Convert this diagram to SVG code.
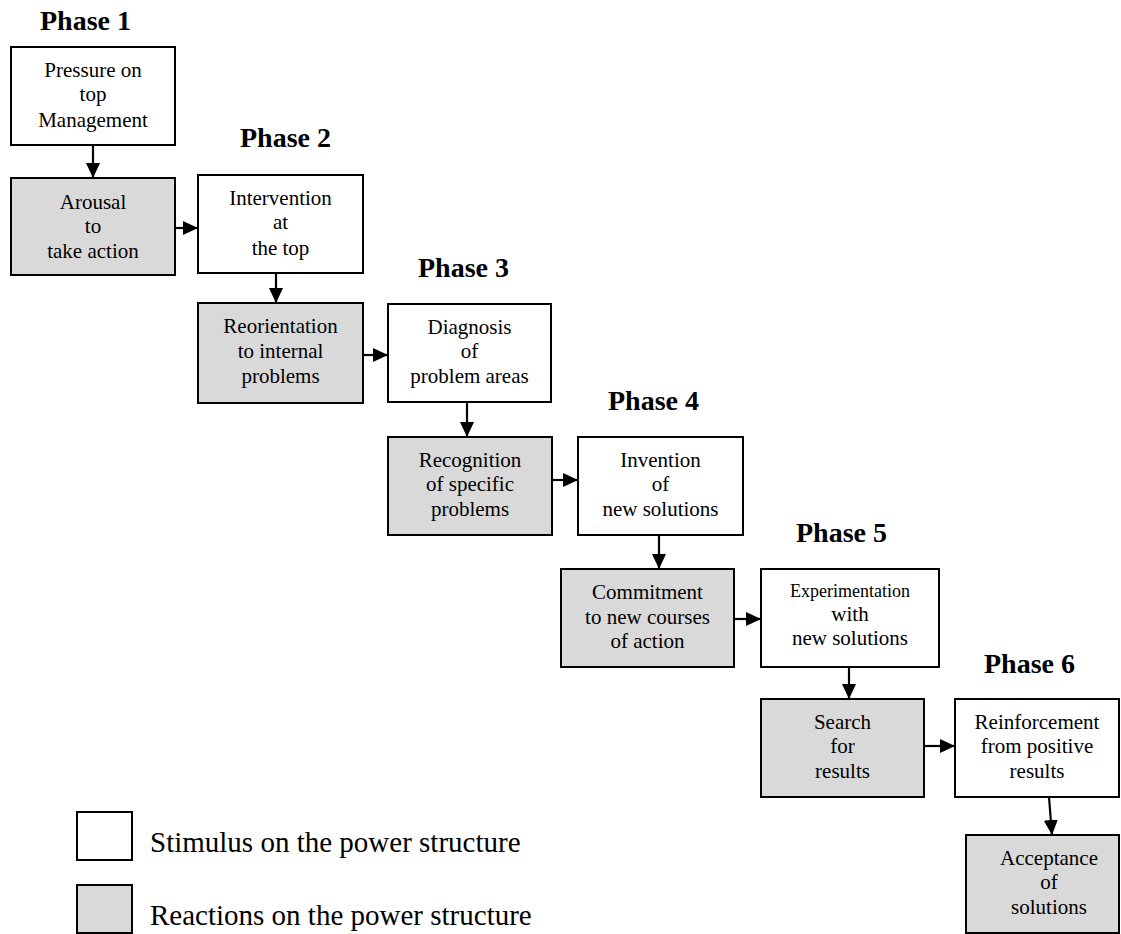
<svg xmlns="http://www.w3.org/2000/svg" width="1121" height="934" viewBox="0 0 1121 934">
<style>
.box{stroke:#000;stroke-width:2}
.w{fill:#fff}
.g{fill:#d9d9d9}
.t{font-family:"Liberation Serif","Times New Roman",serif;font-size:21px;fill:#000;text-anchor:middle}
.s{font-size:18px}
.ph{font-family:"Liberation Serif","Times New Roman",serif;font-size:28px;font-weight:bold;fill:#000}
.lg{font-family:"Liberation Serif","Times New Roman",serif;font-size:29px;fill:#000}
.c{stroke:#000;stroke-width:2.2;fill:none;marker-end:url(#ah)}
</style>
<defs>
<marker id="ah" markerWidth="15" markerHeight="14" refX="15" refY="7" orient="auto" markerUnits="userSpaceOnUse">
<path d="M0,0 L15,7 L0,14 Z" fill="#000"/>
</marker>
</defs>
<rect width="1121" height="934" fill="#fff"/>
<g id="phases">
<text class="ph" x="40" y="30">Phase 1</text>
<text class="ph" x="240" y="147">Phase 2</text>
<text class="ph" x="418" y="277">Phase 3</text>
<text class="ph" x="608" y="410">Phase 4</text>
<text class="ph" x="796" y="542">Phase 5</text>
<text class="ph" x="984" y="673">Phase 6</text>
</g>
<g id="connectors">
<line class="c" x1="93" y1="145" x2="93" y2="178"/>
<line class="c" x1="175" y1="228" x2="198" y2="228"/>
<line class="c" x1="276" y1="273" x2="276" y2="303"/>
<line class="c" x1="363" y1="355" x2="388" y2="355"/>
<line class="c" x1="467" y1="402" x2="467" y2="437"/>
<line class="c" x1="552" y1="480" x2="578" y2="480"/>
<line class="c" x1="659" y1="535" x2="659" y2="569"/>
<line class="c" x1="734" y1="619" x2="761" y2="619"/>
<line class="c" x1="849" y1="667" x2="849" y2="699"/>
<line class="c" x1="924" y1="746" x2="955" y2="746"/>
<line class="c" x1="1049" y1="797" x2="1052" y2="835"/>
</g>
<g id="n1"><rect class="box w" x="11" y="47" width="164" height="98"/>
<text class="t" x="93" y="77">Pressure on</text><text class="t" x="93" y="101">top</text><text class="t" x="93" y="127">Management</text></g>
<g id="n2"><rect class="box g" x="11" y="178" width="164" height="97"/>
<text class="t" x="93" y="209">Arousal</text><text class="t" x="93" y="233">to</text><text class="t" x="93" y="258">take action</text></g>
<g id="n3"><rect class="box w" x="198" y="175" width="165" height="98"/>
<text class="t" x="280.5" y="205">Intervention</text><text class="t" x="280.5" y="229">at</text><text class="t" x="280.5" y="255">the top</text></g>
<g id="n4"><rect class="box g" x="198" y="303" width="165" height="100"/>
<text class="t" x="280.5" y="333">Reorientation</text><text class="t" x="280.5" y="358">to internal</text><text class="t" x="280.5" y="383">problems</text></g>
<g id="n5"><rect class="box w" x="388" y="304" width="163" height="98"/>
<text class="t" x="469.5" y="334">Diagnosis</text><text class="t" x="469.5" y="358">of</text><text class="t" x="469.5" y="383">problem areas</text></g>
<g id="n6"><rect class="box g" x="388" y="437" width="164" height="98"/>
<text class="t" x="470" y="467">Recognition</text><text class="t" x="470" y="491">of specific</text><text class="t" x="470" y="516">problems</text></g>
<g id="n7"><rect class="box w" x="578" y="437" width="165" height="98"/>
<text class="t" x="660.5" y="467">Invention</text><text class="t" x="660.5" y="491">of</text><text class="t" x="660.5" y="516">new solutions</text></g>
<g id="n8"><rect class="box g" x="561" y="569" width="173" height="98"/>
<text class="t" x="647.5" y="599">Commitment</text><text class="t" x="647.5" y="624">to new courses</text><text class="t" x="647.5" y="648">of action</text></g>
<g id="n9"><rect class="box w" x="761" y="569" width="178" height="98"/>
<text class="t s" x="850" y="597">Experimentation</text><text class="t" x="850" y="621">with</text><text class="t" x="850" y="645">new solutions</text></g>
<g id="n10"><rect class="box g" x="761" y="699" width="163" height="98"/>
<text class="t" x="842.5" y="729">Search</text><text class="t" x="842.5" y="753">for</text><text class="t" x="842.5" y="778">results</text></g>
<g id="n11"><rect class="box w" x="955" y="699" width="164" height="98"/>
<text class="t" x="1037" y="729">Reinforcement</text><text class="t" x="1037" y="753">from positive</text><text class="t" x="1037" y="778">results</text></g>
<g id="n12"><rect class="box g" x="966" y="835" width="153" height="98"/>
<text class="t" x="1049" y="865">Acceptance</text><text class="t" x="1049" y="889">of</text><text class="t" x="1049" y="914">solutions</text></g>
<g id="legend">
<rect class="box w" x="77" y="812" width="55" height="48"/>
<text class="lg" x="150" y="852">Stimulus on the power structure</text>
<rect class="box g" x="77" y="885" width="55" height="48"/>
<text class="lg" x="150" y="925">Reactions on the power structure</text>
</g>
</svg>
